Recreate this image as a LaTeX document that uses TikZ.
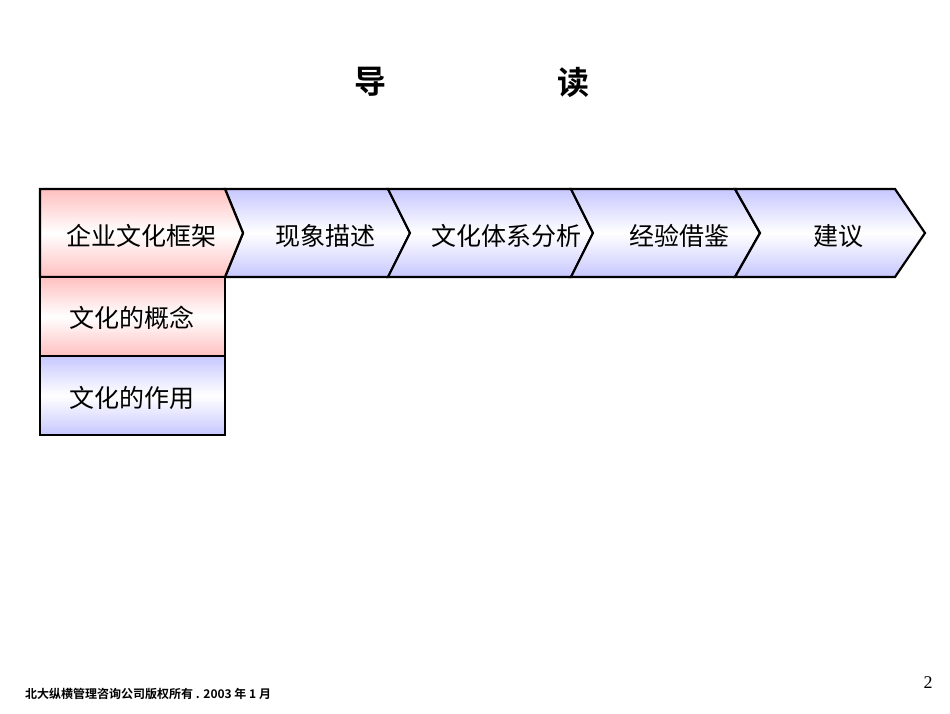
\documentclass[tikz,border=0pt]{standalone}
\usepackage{fontspec}
\setmainfont{Liberation Serif}
\newfontfamily\cjk{Noto Sans CJK SC}
\newfontfamily\cjkbold{Noto Sans CJK SC Bold}
\usetikzlibrary{positioning}

\begin{document}
\begin{tikzpicture}[
    x=1pt, y=-1pt,
    redfill/.style={draw, line width=2.2pt, line join=miter, top color=red!25, bottom color=red!25, middle color=white},
    bluefill/.style={draw, line width=2.2pt, line join=miter, top color=blue!22, bottom color=blue!22, middle color=white},
    label/.style={font=\cjk\fontsize{25}{28}\selectfont, inner sep=0pt}
]
    \useasboundingbox (0,0) rectangle (950,713);
    % title
    \node[font=\cjkbold\fontsize{32}{36}\selectfont] (dao) at (370,82) {导};
    \node[font=\cjkbold\fontsize{32}{36}\selectfont] (du) at (573,82) {读};

    % chevrons
    \foreach \a/\b/\dl/\dr in {225/388/18/22, 388/571/22/22, 571/735/22/25, 735/895/25/30}
        \path[bluefill] (\a,189) -- (\b,189) -- ({\b+\dr},233) -- (\b,277) -- (\a,277)
            -- ({\a+\dl},233) -- cycle;
    \path[redfill] (40,189) -- (225,189) -- (243,233) -- (225,277) -- (40,277) -- cycle;
    \path[redfill] (40,277) rectangle (225,356);
    \path[bluefill] (40,356) rectangle (225,435);

    \node[label] (frame) at (141,236) {企业文化框架};
    \node[label] (desc) at (325,236) {现象描述};
    \node[label] (anal) at (506,236) {文化体系分析};
    \node[label] (exp) at (679,236) {经验借鉴};
    \node[label] (sugg) at (838,236) {建议};
    \node[label] (concept) at (132,318) {文化的概念};
    \node[label] (role) at (132,398) {文化的作用};

    % footer
    \node[font=\cjkbold\fontsize{12}{14}\selectfont, anchor=west, inner sep=0pt] (foot) at (25,694) {北大纵横管理咨询公司版权所有 . 2003 年 1 月};
    \node[font=\fontsize{18}{20}\selectfont, inner sep=0pt] (page) at (928,683) {2};
\end{tikzpicture}
\end{document}
